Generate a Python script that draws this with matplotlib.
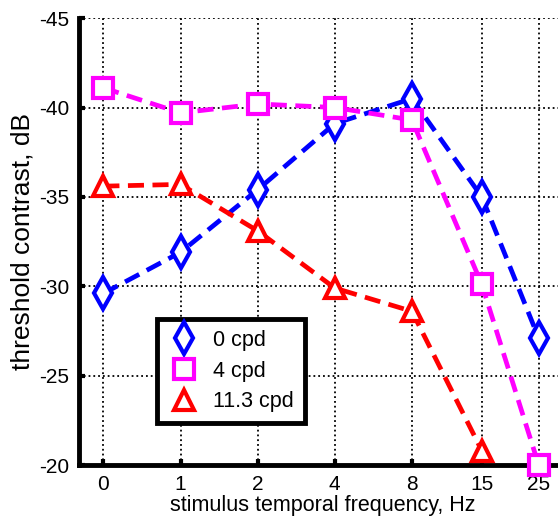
import numpy as np
import matplotlib.pyplot as plt
from matplotlib.lines import Line2D

plt.rcParams['font.family'] = ['Liberation Sans', 'DejaVu Sans']
plt.rcParams['axes.unicode_minus'] = False

# temporal frequencies (Hz); 0 Hz is drawn one octave below 1 Hz
freqs = [0, 1, 2, 4, 8, 15, 25]
freq_labels = ['0', '1', '2', '4', '8', '15', '25']

# threshold contrast (dB) for each spatial frequency
thr_0cpd = [-29.6, -31.9, -35.4, -39.1, -40.5, -35.0, -27.1]
thr_4cpd = [-41.1, -39.7, -40.2, -40.0, -39.3, -30.1, -20.0]
thr_11cpd = [-35.6, -35.7, -33.1, -29.9, -28.6, -20.8]

series = [
    (thr_0cpd, 'blue', 'd', 16, '0 cpd'),
    (thr_4cpd, 'magenta', 's', 14, '4 cpd'),
    (thr_11cpd, 'red', '^', 15, '11.3 cpd'),
]

xpos = np.log2(np.maximum(freqs, 0.5))

fig = plt.figure(figsize=(5.58, 5.27), dpi=100)
ax = fig.add_axes([0.1416, 0.1176, 0.873, 0.848])

handles = []
for vals, col, mk, ms, lab in series:
    ax.plot(xpos[:len(vals)], vals, color=col, ls='--', lw=3.4,
            dashes=(3.4, 1.8), marker=mk, ms=ms, mfc='white', mec=col,
            mew=3.0, clip_on=False, zorder=3)
    handles.append(Line2D([], [], ls='none', marker=mk, ms=ms, mfc='white',
                          mec=col, mew=3.0, label=lab))

ax.set_xlim(-1.316, 5.0)
ax.set_ylim(-20, -45)
ax.set_xticks(xpos)
ax.set_xticklabels(freq_labels)
ax.set_yticks([-45, -40, -35, -30, -25, -20])

ax.grid(True, color='black', ls=':', lw=1.3)
for side in ['top', 'right']:
    ax.spines[side].set_visible(False)
for side in ['left', 'bottom']:
    ax.spines[side].set_linewidth(3.5)
ax.tick_params(direction='in', length=4, width=3, labelsize=15, pad=7)

ax.set_xlabel('stimulus temporal frequency, Hz', fontsize=15.5, labelpad=1)
ax.set_ylabel('threshold contrast, dB', fontsize=19, labelpad=3)

leg = ax.legend(handles=handles, loc='lower left',
                bbox_to_anchor=(0.161, 0.094), borderaxespad=0,
                fontsize=15.5, frameon=True, fancybox=False,
                handlelength=1.5, handletextpad=0.6, labelspacing=0.45,
                borderpad=0.5)
leg.get_frame().set_edgecolor('black')
leg.get_frame().set_linewidth(3.5)
leg.get_frame().set_alpha(1)

fig.savefig('out.png', dpi=100)
